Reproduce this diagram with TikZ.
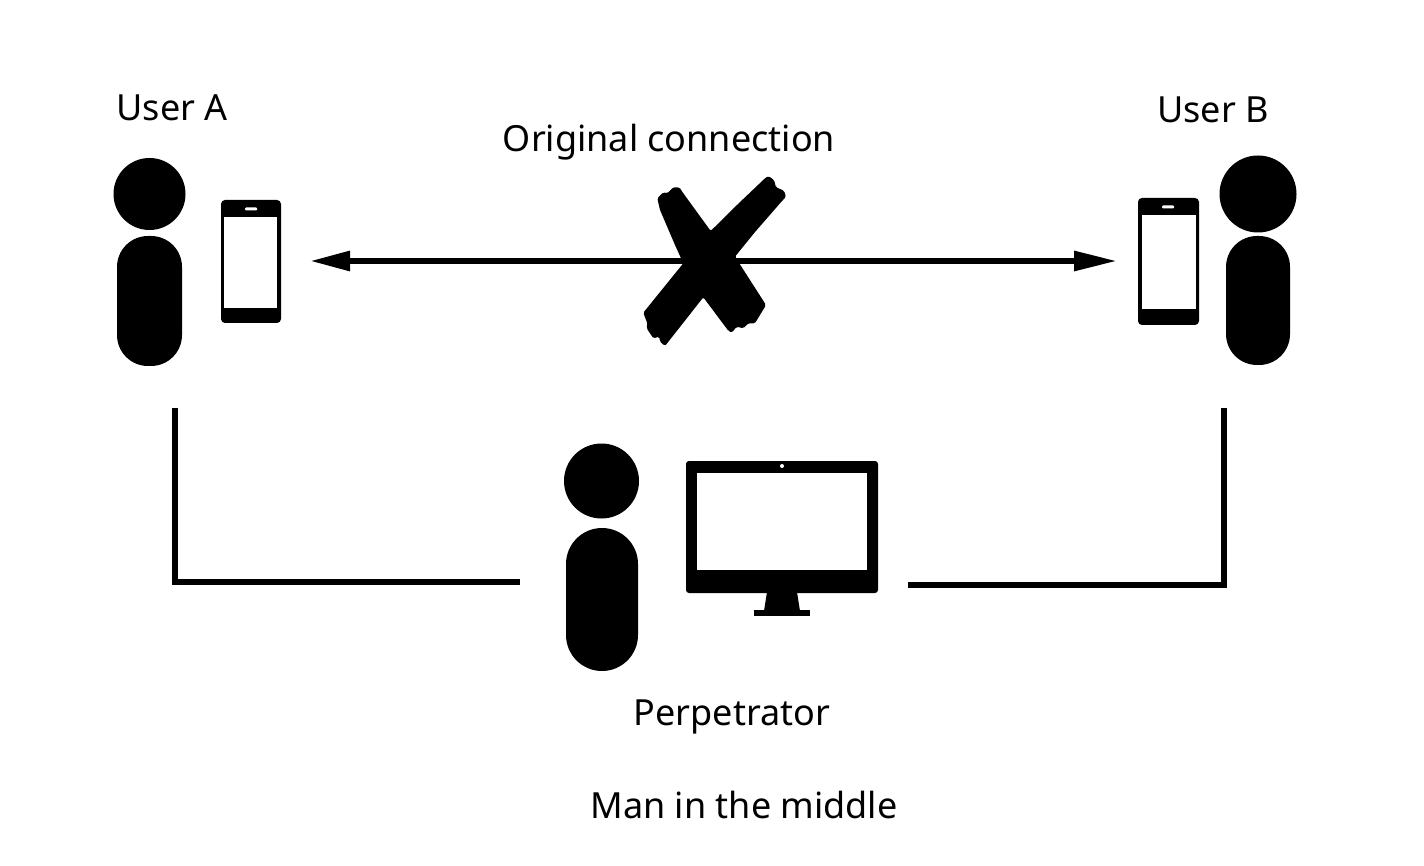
\documentclass[tikz,border=0pt]{standalone}
\usepackage{fontspec}
\setmainfont{Noto Sans}
\usetikzlibrary{positioning, arrows.meta}

\tikzset{
    blackpart/.style={fill=black, inner sep=0pt, outer sep=0pt},
    whitepart/.style={fill=white, inner sep=0pt, outer sep=0pt},
    head/.style={blackpart, circle, minimum size=#1},
    body/.style={blackpart, rectangle, rounded corners=31pt},
    label text/.style={inner sep=0pt, font=\fontsize{36}{42}\selectfont},
    link/.style={line width=6pt, line cap=butt, line join=miter},
    double link/.style={line width=6pt, {Triangle[length=40pt,width=19pt]}-{Triangle[length=43pt,width=19pt]}}
}

\begin{document}
\begin{tikzpicture}[x=1pt, y=-1pt]
    \useasboundingbox (0, 0) rectangle (1424, 866);

    % user a
    \node[head=72pt] (headA) at (149.5, 194) {};
    \node[body, minimum width=65pt, minimum height=130pt] (bodyA) at (149.5, 301) {};
    \node[blackpart, rounded corners=4pt, minimum width=60pt, minimum height=123pt] (phoneA) at (251, 261.5) {};
    \node[whitepart, minimum width=53pt, minimum height=91pt] (screenA) at (250.5, 262.5) {};
    \node[whitepart, rounded corners=1pt, minimum width=12pt, minimum height=3pt] (speakerA) at (251, 209) {};

    % user b
    \node[head=77pt] (headB) at (1258, 194) {};
    \node[body, minimum width=64pt, minimum height=129pt] (bodyB) at (1258, 300.5) {};
    \node[blackpart, rounded corners=4pt, minimum width=61pt, minimum height=127pt] (phoneB) at (1168.5, 261.5) {};
    \node[whitepart, minimum width=54pt, minimum height=94pt] (screenB) at (1169, 262) {};
    \node[whitepart, rounded corners=1pt, minimum width=12pt, minimum height=3pt] (speakerB) at (1168, 207) {};

    % perpetrator
    \node[head=75pt] (headP) at (601.5, 481) {};
    \node[body, rounded corners=36pt, minimum width=72pt, minimum height=143pt] (bodyP) at (602, 599.5) {};
    \node[blackpart, rounded corners=3pt, minimum width=192pt, minimum height=132pt] (monitor) at (782, 527) {};
    \node[whitepart, minimum width=170pt, minimum height=97pt] (display) at (782, 521.5) {};
    \node[whitepart, circle, minimum size=4pt] (camera) at (782, 466) {};
    \fill (767, 592) -- (797, 592) -- (800, 611) -- (764, 611) -- cycle;
    \node[blackpart, minimum width=56pt, minimum height=6pt] (stand) at (782, 613) {};

    % connections
    \coordinate (leftTip) at (310, 261);
    \coordinate (rightTip) at (1117, 261);
    \coordinate (cornerA) at (175, 582);
    \coordinate (cornerB) at (1224, 585);
    \coordinate (startA) at (175, 408);
    \coordinate (startB) at (1224, 408);
    \coordinate (endA) at (520, 582);
    \coordinate (endB) at (908, 585);

    \draw[double link] (leftTip) -- (rightTip);
    \draw[link] (startA) -- (cornerA) -- (endA);
    \draw[link] (startB) -- (cornerB) -- (endB);

    % cross
    \fill[rounded corners=1.5pt] (657.3, 198.3) -- (663.3, 192.3) -- (667.3, 193.3) -- (673.3, 187.3) -- (679.3, 187.3)
        -- (683.3, 193.3) -- (710.7, 231) -- (738, 204) -- (765, 178.3) -- (768.3, 176) -- (774, 180) -- (776, 187.3)
        -- (784, 190.7) -- (786, 196.7) -- (780, 203.3) -- (755, 232) -- (735, 256.7) -- (766, 305) -- (755, 323.3)
        -- (748.3, 323.3) -- (743.3, 328.3) -- (736.7, 326.7) -- (731.7, 332.7) -- (728.3, 330.7)
        -- (703.3, 297.3) -- (665, 346) -- (660, 341.7) -- (659.3, 336.7) -- (653.3, 338.3) -- (646.7, 328.3)
        -- (647.3, 323.3) -- (643.3, 312.7) -- (683.3, 263.3) -- (675, 245) -- (660, 210) -- cycle;

    % labels
    \node[label text] (userA) at (172, 108) {User A};
    \node[label text] (userB) at (1213, 110) {User B};
    \node[label text] (original) at (669, 142) {Original connection};
    \node[label text] (perpetrator) at (732, 717) {Perpetrator};
    \node[label text] (mitm) at (744, 805) {Man in the middle};
\end{tikzpicture}
\end{document}
